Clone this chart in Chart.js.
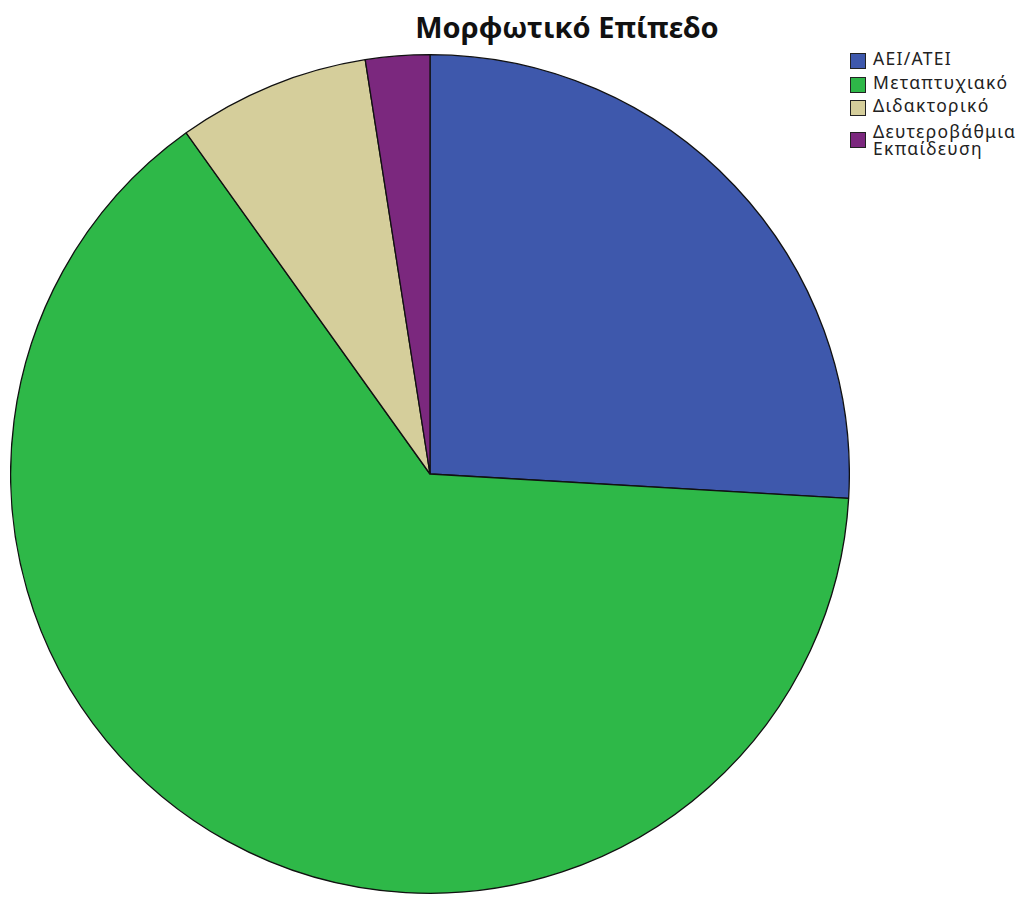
<!DOCTYPE html>
<html>
<head>
<meta charset="utf-8">
<script src="https://cdn.jsdelivr.net/npm/chart.js@4"></script>
<style>
  body { margin: 0; background: #fff; width: 1024px; height: 899px; overflow: hidden; position: relative; font-family: "Noto Sans", sans-serif; }
  #titulo { position: absolute; left: 0; width: 1134px; top: 7px; text-align: center; font-weight: bold; font-size: 29px; color: #111; }
  #pieWrap { position: absolute; left: 10px; top: 52px; width: 840px; height: 844px; }
  #legenda { position: absolute; left: 850px; top: 50px; font-size: 17.5px; color: #222; letter-spacing: 1.3px; }
  .item { display: flex; align-items: flex-start; height: 23.5px; }
  .item.duas { height: 38px; align-items: center; }
  .caixa { width: 14px; height: 14px; border: 1px solid #222; margin-right: 7px; margin-top: 3px; flex: none; }
  .item.duas .caixa { margin-top: 0; }
  .texto { line-height: 17px; }
</style>
</head>
<body>
<div id="titulo">Μορφωτικό Επίπεδο</div>
<div id="pieWrap"><canvas id="myChart"></canvas></div>
<div id="legenda"></div>
<script>
// categorias e frequências
const categorias = ['ΑΕΙ/ΑΤΕΙ', 'Μεταπτυχιακό', 'Διδακτορικό', 'Δευτεροβάθμια Εκπαίδευση'];
const frequencias = [21, 52, 6, 2];
const cores = ['#3E58AC', '#2EB848', '#D5CE9B', '#7B287E'];

// legenda em html (o último rótulo quebra em duas linhas)
const legenda = document.getElementById('legenda');
categorias.forEach((nome, i) => {
    const partes = nome.split(' ');
    const item = document.createElement('div');
    item.className = 'item' + (partes.length > 1 ? ' duas' : '');
    item.innerHTML = '<div class="caixa" style="background:' + cores[i] + '"></div>' +
        '<div class="texto">' + partes.join('<br>') + '</div>';
    legenda.appendChild(item);
});

new Chart(document.getElementById('myChart'), {
    type: 'pie',
    data: {
        labels: categorias,
        datasets: [{
            data: frequencias,
            backgroundColor: cores,
            borderColor: '#111',
            borderWidth: 1.3
        }]
    },
    options: {
        responsive: true,
        maintainAspectRatio: false,
        animation: false,
        layout: { padding: 0 },
        plugins: {
            legend: { display: false },
            title: { display: false },
            tooltip: { enabled: false }
        }
    }
});
</script>
</body>
</html>
